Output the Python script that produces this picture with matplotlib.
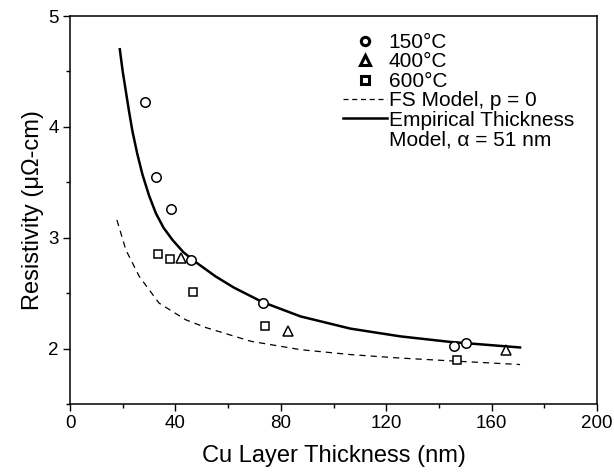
import matplotlib
matplotlib.use("Agg")
import matplotlib.pyplot as plt
from matplotlib.lines import Line2D
from matplotlib.ticker import MultipleLocator

plt.rcParams['font.family'] = ['Liberation Sans', 'DejaVu Sans']

# ---- data ----
t150 = [28.5, 32.7, 38.4, 46.0, 73.1, 145.7, 150.4]
r150 = [4.22, 3.55, 3.26, 2.80, 2.41, 2.02, 2.05]

t400 = [42.0, 82.7, 165.4]
r400 = [2.82, 2.16, 1.99]

t600 = [33.3, 38.1, 46.7, 74.0, 146.7]
r600 = [2.85, 2.81, 2.51, 2.20, 1.90]

# Empirical thickness model curve (solid)
t_emp = [18.9, 20.0, 21.2, 22.4, 23.7, 25.5, 27.5, 30.0, 32.6, 35.5, 38.9, 43.0,
         47.7, 55.3, 62.2, 73.0, 87.5, 106.4, 125.4, 144.3, 170.8]
r_emp = [4.70, 4.50, 4.32, 4.14, 3.96, 3.76, 3.57, 3.38, 3.22, 3.09, 2.98, 2.87,
         2.78, 2.65, 2.55, 2.42, 2.29, 2.18, 2.11, 2.06, 2.01]

# FS model curve, p = 0 (dashed)
t_fs = [17.8, 21.2, 26.3, 33.8, 43.9, 51.5, 68.6, 87.5, 106.4, 124.1, 146.9, 170.8]
r_fs = [3.16, 2.89, 2.65, 2.41, 2.26, 2.19, 2.066, 1.99, 1.946, 1.916, 1.886, 1.856]

x_ticks = [0, 40, 80, 120, 160, 200]
y_ticks = [2, 3, 4, 5]

labels = ["150°C", "400°C", "600°C", "FS Model, p = 0",
          "Empirical Thickness", "Model, α = 51 nm"]

# ---- figure ----
fig = plt.figure(figsize=(6.14, 4.75), dpi=100)
ax = fig.add_axes([70/614, 1 - 404/475, 527/614, 388/475])

ax.plot(t_fs, r_fs, color='black', lw=0.9, ls=(0, (5, 4)))
ax.plot(t_emp, r_emp, color='black', lw=1.8)

ax.plot(t150, r150, ls='none', marker='o', ms=6.8, mfc='white', mec='black', mew=1.1)
ax.plot(t400, r400, ls='none', marker='^', ms=7.8, mfc='white', mec='black', mew=1.1)
ax.plot(t600, r600, ls='none', marker='s', ms=6.3, mfc='white', mec='black', mew=1.1)

ax.set_xlim(0, 200)
ax.set_ylim(1.5, 5)
ax.set_xticks(x_ticks)
ax.set_yticks(y_ticks)
ax.xaxis.set_minor_locator(MultipleLocator(20))
ax.yaxis.set_minor_locator(MultipleLocator(0.5))
ax.tick_params(which='major', direction='out', length=5, width=1.0, labelsize=13.5, pad=3)
ax.tick_params(which='minor', direction='out', length=3, width=1.0)
for s in ax.spines.values():
    s.set_linewidth(1.1)

ax.set_xlabel("Cu Layer Thickness (nm)", fontsize=17, labelpad=9)
ax.set_ylabel("Resistivity (μΩ-cm)", fontsize=17, labelpad=3)

# legend
h_c = Line2D([], [], ls='none', marker='o', ms=6.0, mfc='white', mec='black', mew=2.2)
h_t = Line2D([], [], ls='none', marker='^', ms=6.5, mfc='white', mec='black', mew=2.2)
h_s = Line2D([], [], ls='none', marker='s', ms=5.5, mfc='white', mec='black', mew=2.2)
h_fs = Line2D([], [], color='black', lw=0.9, ls=(0, (4, 3)))
h_emp = Line2D([], [], color='black', lw=1.8)
h_blank = Line2D([], [], ls='none')
leg = ax.legend([h_c, h_t, h_s, h_fs, h_emp, h_blank], labels,
                loc='upper left', bbox_to_anchor=(0.518, 0.956),
                frameon=False, fontsize=15, handlelength=2.1,
                handletextpad=0.1, labelspacing=0.02, borderpad=0,
                borderaxespad=0)

fig.savefig("out.png", dpi=100)
